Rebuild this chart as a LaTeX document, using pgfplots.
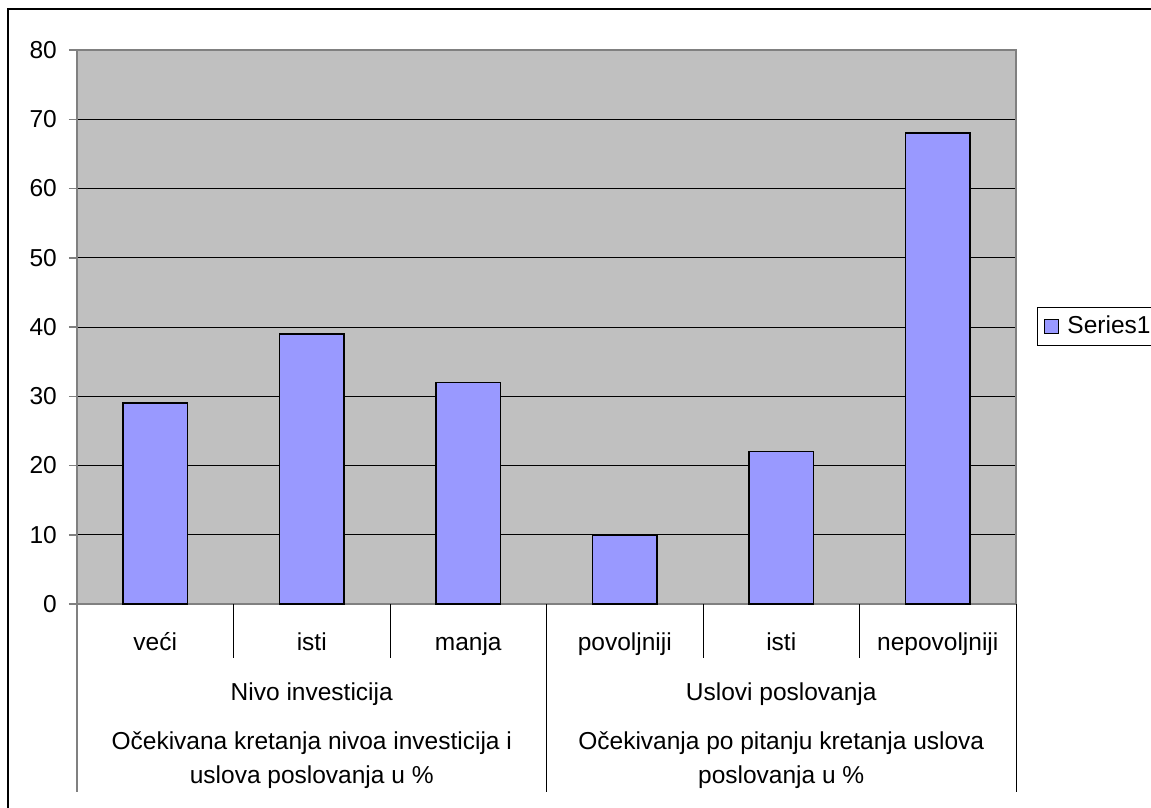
\documentclass[border=0pt]{standalone}
\usepackage{pgfplots}
\pgfplotsset{compat=1.18}
\usepackage{fontspec}
\setmainfont{Liberation Sans}
\definecolor{plotgray}{HTML}{C0C0C0}
\definecolor{barblue}{HTML}{9999FF}
\definecolor{axgray}{HTML}{808080}
\begin{document}
\fontsize{24.5}{29}\selectfont
\begin{tikzpicture}[x=1pt,y=1pt]
\path[use as bounding box] (0,0) rectangle (1151,807);
\draw[black, line width=1.3pt] (8,-20) rectangle (1180,798);
\begin{axis}[
  at={(77pt,203pt)}, anchor=south west,
  width=939pt, height=554pt, scale only axis,
  xmin=0, xmax=6, ymin=0, ymax=80,
  axis background/.style={fill=plotgray},
  ytick={0,10,...,80},
  xtick=\empty,
  ymajorgrids,
  major grid style={black, line width=1pt},
  axis line style={axgray, line width=1.5pt},
  tick style={axgray, line width=1.5pt},
  tick align=outside, major tick length=8pt,
  ytick pos=left,
  yticklabel style={anchor=east, inner sep=0pt, xshift=-12pt},
  /pgf/number format/assume math mode=true,
  ticklabel style={font=\fontsize{24.5}{29}\selectfont},
  clip=false,
  legend style={at={(axis description cs:1.022,0.5356)}, anchor=north west,
    draw=black, line width=1.2pt, fill=white,
    font=\fontsize{24.5}{29}\selectfont, inner xsep=7pt, inner ysep=6pt,
    /tikz/every odd column/.append style={column sep=6pt}},
]
\addplot[ybar, bar width=0.415, fill=barblue, draw=black, line width=1.5pt,
  legend image code/.code={\draw[black, line width=1.2pt, fill=barblue] (0pt,-7pt) rectangle (14pt,7pt);}]
  coordinates {(0.5,29) (1.5,39) (2.5,32) (3.5,10) (4.5,22) (5.5,68)};
\addlegendentry{Series1}
% separators
\draw[black, line width=1pt] (axis cs:1,0) -- ++(0pt,-54pt);
\draw[black, line width=1pt] (axis cs:2,0) -- ++(0pt,-54pt);
\draw[black, line width=1pt] (axis cs:4,0) -- ++(0pt,-54pt);
\draw[black, line width=1pt] (axis cs:5,0) -- ++(0pt,-54pt);
\draw[axgray, line width=1.5pt] (axis cs:0,0) -- ++(0pt,-188pt);
\draw[black, line width=1pt] (axis cs:3,0) -- ++(0pt,-188pt);
\draw[black, line width=1pt] (axis cs:6,0) -- ++(0pt,-188pt);
% level 1
\node[anchor=base] at (axis cs:0.5,0) [yshift=-46pt] {veći};
\node[anchor=base] at (axis cs:1.5,0) [yshift=-46pt] {isti};
\node[anchor=base] at (axis cs:2.5,0) [yshift=-46pt] {manja};
\node[anchor=base] at (axis cs:3.5,0) [yshift=-46pt] {povoljniji};
\node[anchor=base] at (axis cs:4.5,0) [yshift=-46pt] {isti};
\node[anchor=base] at (axis cs:5.5,0) [yshift=-46pt] {nepovoljniji};
% level 2
\node[anchor=base] at (axis cs:1.5,0) [yshift=-96pt] {Nivo investicija};
\node[anchor=base] at (axis cs:4.5,0) [yshift=-96pt] {Uslovi poslovanja};
% level 3
\node at (axis cs:1.5,0) [yshift=-156pt, align=center, font=\fontsize{24.5}{34}\selectfont] {Očekivana kretanja nivoa investicija i\\uslova poslovanja u \%};
\node at (axis cs:4.5,0) [yshift=-156pt, align=center, font=\fontsize{24.5}{34}\selectfont] {Očekivanja po pitanju kretanja uslova\\poslovanja u \%};
\end{axis}
\end{tikzpicture}
\end{document}
